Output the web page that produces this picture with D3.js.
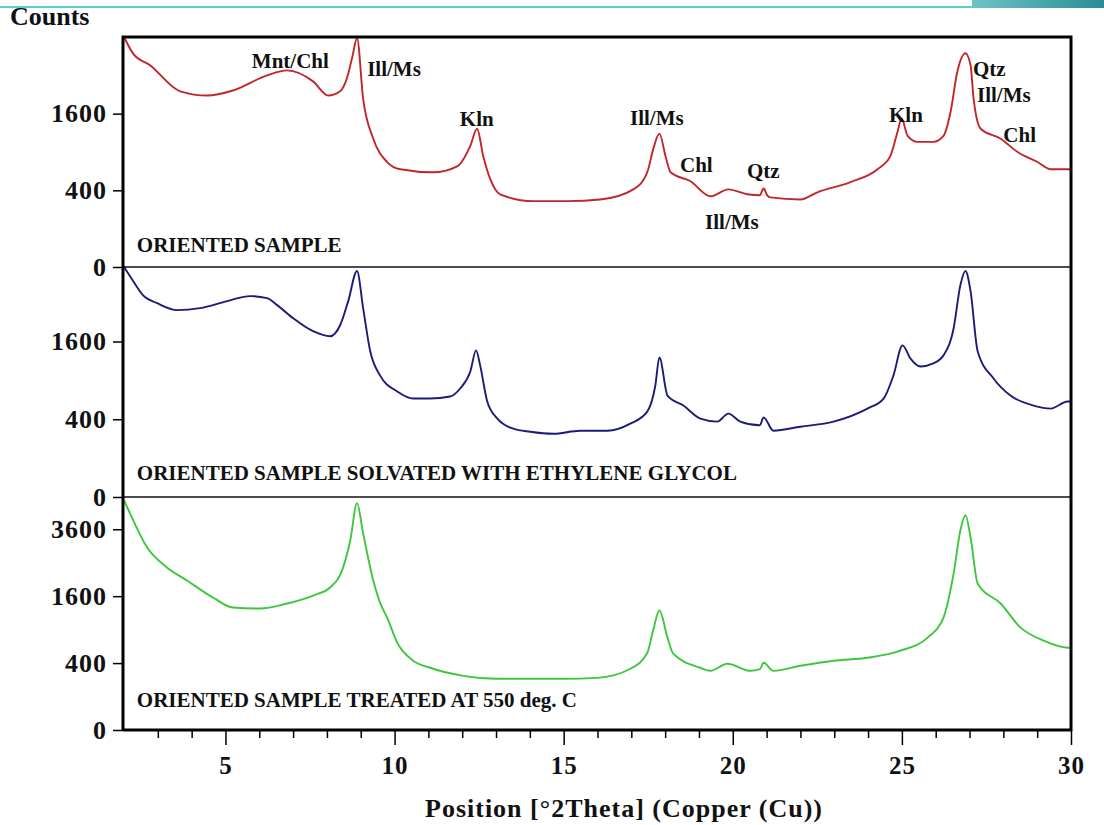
<!DOCTYPE html>
<html>
<head>
<meta charset="utf-8">
<script src="https://cdn.jsdelivr.net/npm/d3@7"></script>
<style>
  body { margin: 0; background: #fff; }
  svg { display: block; font-family: 'Liberation Serif', 'Times New Roman', serif; font-weight: bold; }
</style>
</head>
<body>
<svg width="1104" height="825"></svg>
<script>
// counts (position in deg 2Theta)
const thetaRed = [2.00, 2.27, 2.77, 3.66, 4.46, 5.22, 6.23, 6.82, 7.59, 8.04, 8.39, 8.60, 8.75, 8.89, 9.07, 9.37, 9.78, 10.17, 11.14, 11.85, 12.24, 12.44, 12.62, 12.83, 13.12, 14.10, 15.11, 16.08, 17.06, 17.47, 17.65, 17.83, 18.01, 18.16, 18.75, 19.34, 19.87, 20.43, 20.80, 20.91, 21.02, 21.11, 22.00, 22.50, 23.48, 24.28, 24.66, 24.87, 24.99, 25.17, 25.46, 25.93, 26.23, 26.44, 26.64, 26.88, 27.03, 27.12, 27.33, 27.92, 28.42, 29.01, 29.40, 30.00];
const countsRed = [3600, 3100, 2770, 2100, 2000, 2120, 2500, 2630, 2345, 2000, 2100, 2450, 3000, 3570, 1930, 1120, 750, 650, 610, 690, 1000, 1300, 840, 525, 360, 295, 295, 310, 410, 610, 950, 1210, 840, 610, 500, 340, 410, 360, 350, 420, 350, 330, 310, 380, 490, 650, 840, 1240, 1500, 1170, 1065, 1065, 1170, 1640, 2600, 3110, 2770, 1930, 1300, 1120, 900, 750, 650, 650];

const thetaBlue = [2.00, 2.27, 2.56, 2.98, 3.57, 4.25, 5.05, 5.73, 6.23, 6.53, 7.00, 7.59, 8.09, 8.39, 8.63, 8.89, 9.07, 9.28, 9.57, 10.08, 10.55, 11.05, 11.64, 11.94, 12.24, 12.41, 12.53, 12.74, 13.04, 13.51, 14.01, 14.69, 15.49, 16.29, 16.97, 17.47, 17.71, 17.83, 18.07, 18.54, 19.04, 19.54, 19.87, 20.22, 20.80, 20.91, 21.20, 22.00, 22.98, 23.98, 24.46, 24.75, 25.02, 25.25, 25.55, 25.93, 26.23, 26.53, 26.73, 26.88, 27.03, 27.24, 27.71, 28.21, 28.89, 29.40, 29.90, 30.00];
const countsBlue = [3500, 3087, 2698, 2487, 2310, 2360, 2539, 2671, 2618, 2436, 2115, 1818, 1709, 1952, 2539, 3380, 2360, 1404, 978, 736, 641, 641, 668, 779, 1043, 1423, 1146, 603, 406, 309, 282, 265, 291, 291, 356, 482, 823, 1290, 681, 553, 406, 376, 460, 376, 340, 420, 291, 327, 376, 517, 641, 978, 1522, 1272, 1128, 1181, 1327, 1885, 2973, 3380, 2806, 1404, 930, 681, 553, 517, 603, 603];

const thetaGreen = [2.00, 2.27, 2.68, 3.27, 3.86, 4.63, 5.22, 6.02, 6.82, 7.59, 8.09, 8.48, 8.69, 8.89, 9.07, 9.37, 9.57, 9.78, 10.08, 10.55, 11.05, 12.03, 13.04, 14.01, 14.99, 15.99, 16.97, 17.47, 17.65, 17.83, 18.07, 18.24, 19.04, 19.34, 19.84, 20.52, 20.80, 20.91, 21.20, 22.00, 22.98, 23.98, 24.96, 25.76, 26.23, 26.53, 26.73, 26.88, 27.03, 27.24, 27.92, 28.51, 29.19, 29.90, 30.00];
const countsGreen = [4720, 3932, 2981, 2362, 1998, 1568, 1340, 1318, 1429, 1616, 1815, 2362, 3215, 4597, 3457, 1998, 1450, 1129, 680, 429, 346, 262, 234, 234, 234, 243, 335, 530, 900, 1275, 762, 520, 346, 313, 392, 313, 330, 404, 313, 369, 429, 467, 562, 762, 1129, 2191, 3564, 4122, 3318, 1919, 1429, 936, 713, 605, 605];

const panelNames = ['ORIENTED SAMPLE', 'ORIENTED SAMPLE SOLVATED WITH ETHYLENE GLYCOL', 'ORIENTED SAMPLE TREATED AT 550 deg. C'];
const panelMax = [3600, 3500, 4850];
const panelTicks = [[0, 400, 1600], [0, 400, 1600], [0, 400, 1600, 3600]];

// phase labels on the oriented sample pattern (left edge, baseline level)
const peakNames = ['Mnt/Chl', 'Ill/Ms', 'Kln', 'Ill/Ms', 'Chl', 'Qtz', 'Ill/Ms', 'Kln', 'Qtz', 'Ill/Ms', 'Chl'];
const peakTheta = [5.78, 9.19, 11.93, 16.96, 18.44, 20.42, 19.18, 24.62, 27.10, 27.22, 28.00];
const peakLevel = [2695, 2483, 1353, 1372, 614, 539, 98, 1431, 2480, 1860, 1063];

const xTicks = [5, 10, 15, 20, 25, 30];
const xMinor = [3, 4, 6, 7, 8, 9, 11, 12, 13, 14, 16, 17, 18, 19, 21, 22, 23, 24, 26, 27, 28, 29];

const svg = d3.select('svg');
const width = +svg.attr('width');
const height = +svg.attr('height');

const plotLeft = 123, plotRight = 1071, plotTop = 37;
const panelBottoms = [267, 497, 730];
const panelTops = [37, 267, 497];
const colors = ['#c0262b', '#1c1c78', '#3fc63f'];

const xScale = d3.scaleLinear().domain([2, 30]).range([plotLeft + 1, plotRight]);

svg.append('rect').attr('width', width).attr('height', height).attr('fill', '#fff');

// screenshot strip on top
const grad = svg.append('defs').append('linearGradient').attr('id', 'strip');
grad.append('stop').attr('offset', '0%').attr('stop-color', '#6cc4c4');
grad.append('stop').attr('offset', '100%').attr('stop-color', '#2a8c96');
svg.append('line').attr('x1', 0).attr('x2', width).attr('y1', 7).attr('y2', 7)
  .attr('stroke', '#55cfd6').attr('stroke-width', 2);
svg.append('rect').attr('x', 972).attr('y', 0).attr('width', width - 972).attr('height', 8)
  .attr('fill', 'url(#strip)');

const series = [
  thetaRed.map((t, i) => ({ t, c: countsRed[i] })),
  thetaBlue.map((t, i) => ({ t, c: countsBlue[i] })),
  thetaGreen.map((t, i) => ({ t, c: countsGreen[i] }))
];

const yScales = panelMax.map((m, i) => d3.scaleSqrt()
  .domain([0, m])
  .range([panelBottoms[i], panelTops[i]])
  .clamp(true));

series.forEach((data, i) => {
  const y = yScales[i];
  const line = d3.line()
    .x(d => xScale(d.t))
    .y(d => y(d.c))
    .curve(d3.curveMonotoneX);
  svg.append('path')
    .datum(data)
    .attr('fill', 'none')
    .attr('stroke', colors[i])
    .attr('stroke-width', 1.9)
    .attr('stroke-linejoin', 'round')
    .attr('d', line);

  const yAxis = d3.axisLeft(y)
    .tickValues(panelTicks[i])
    .tickFormat(d3.format('d'))
    .tickSize(10)
    .tickPadding(6);
  const g = svg.append('g').attr('transform', `translate(${plotLeft},0)`).call(yAxis);
  g.select('.domain').remove();
  g.selectAll('line').attr('stroke', '#000').attr('stroke-width', 1.5);
  g.selectAll('text')
    .attr('font-family', "'Liberation Serif', 'Times New Roman', serif")
    .attr('font-size', 26).attr('font-weight', 'bold').attr('fill', '#111')
    .attr('letter-spacing', 1);

  svg.append('text')
    .attr('x', xScale(2.38))
    .attr('y', panelBottoms[i] - [15, 17, 23][i])
    .attr('font-size', 21)
    .attr('fill', '#111')
    .text(panelNames[i]);
});

// panel separators
[267, 497].forEach(yy => {
  svg.append('line').attr('x1', plotLeft).attr('x2', plotRight).attr('y1', yy).attr('y2', yy)
    .attr('stroke', '#111').attr('stroke-width', 1.5);
});

// frame
svg.append('path')
  .attr('d', `M${plotLeft},731 V${plotTop} H${plotRight} V731`)
  .attr('fill', 'none').attr('stroke', '#000').attr('stroke-width', 3);

// x axis
const xAxisG = svg.append('g').attr('transform', `translate(0,${730})`)
  .call(d3.axisBottom(xScale).tickValues(xTicks).tickSize(15).tickPadding(11).tickFormat(d3.format('d')));
xAxisG.select('.domain').attr('stroke-width', 3).attr('d', `M${plotLeft},0H${plotRight}`);
xAxisG.selectAll('line').attr('stroke-width', 1.5);
xAxisG.selectAll('text')
  .attr('font-family', "'Liberation Serif', 'Times New Roman', serif")
  .attr('font-size', 25).attr('font-weight', 'bold').attr('fill', '#111')
  .attr('letter-spacing', 1);

const minorG = svg.append('g').attr('transform', `translate(0,${730})`)
  .call(d3.axisBottom(xScale).tickValues(xMinor).tickSize(8).tickFormat(''));
minorG.select('.domain').remove();
minorG.selectAll('line').attr('stroke-width', 1.5);

// peak labels
svg.append('g').selectAll('text')
  .data(peakNames)
  .enter().append('text')
    .attr('x', (d, i) => xScale(peakTheta[i]))
    .attr('y', (d, i) => yScales[0](peakLevel[i]))
    .attr('font-size', 21)
    .attr('fill', '#111')
    .text(d => d);

svg.append('text')
  .attr('x', 10).attr('y', 25)
  .attr('font-size', 26).attr('fill', '#111')
  .text('Counts');

svg.append('text')
  .attr('x', 624).attr('y', 817)
  .attr('text-anchor', 'middle')
  .attr('font-size', 26).attr('letter-spacing', 1)
  .attr('fill', '#111')
  .text('Position [°2Theta] (Copper (Cu))');
</script>
</body>
</html>
